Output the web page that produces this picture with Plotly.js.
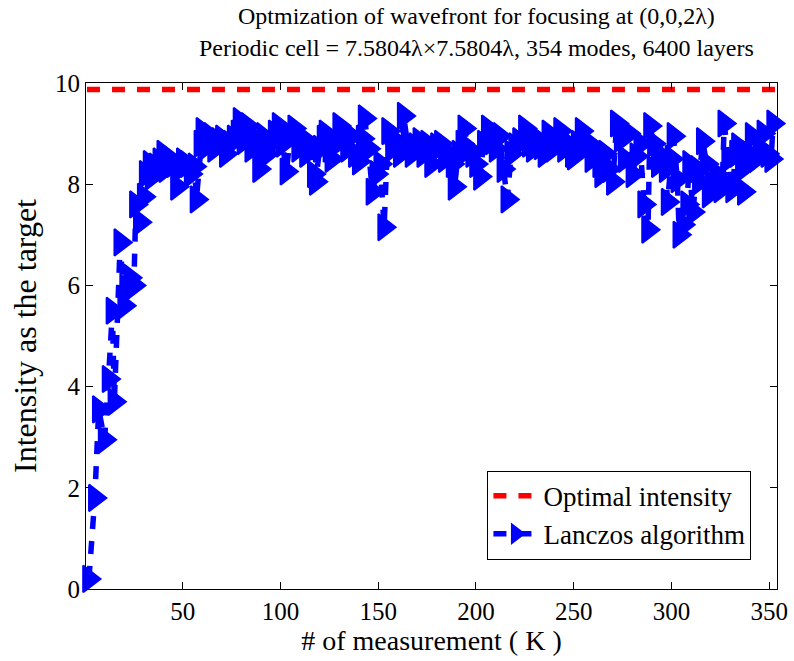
<!DOCTYPE html>
<html>
<head>
<meta charset="utf-8">
<script src="https://cdn.plot.ly/plotly-3.0.1.min.js"></script>
<style>html,body{margin:0;padding:0;background:#fff;}#chart{width:794px;height:661px;}</style>
</head>
<body>
<div id="chart"></div>
<script>
// Measurement counts K (x) and Lanczos intensity at the target (y)
const measurementK = [2,5,7,10,12,14,15,18,20,21,23,25,26,28,30,31,33,34,36,38,40,41,43,45,47,48,50,52,54,56,57,59,60,62,64,66,68,70,72,74,76,78,79,81,83,85,87,89,91,93,95,97,99,101,103,105,107,109,111,113,115,117,118,120,122,123,125,126,128,130,132,134,136,138,140,142,143,145,147,149,151,153,155,157,159,161,163,165,167,169,171,173,175,177,178,180,182,184,186,188,189,191,193,194,196,198,200,202,204,206,208,210,212,214,216,218,220,222,225,227,229,231,233,235,237,239,241,243,245,247,249,250,252,254,256,258,259,261,263,264,266,268,270,272,274,276,278,280,282,284,286,288,289,291,293,295,297,298,300,301,303,304,306,308,309,311,313,314,316,318,319,321,323,325,326,327,329,331,333,334,336,337,339,341,343,345,347,349,351,352];
const lanczosIntensity = [0.2,1.8,3.55,2.95,4.15,5.5,3.7,6.85,5.6,5.95,6.15,6.0,7.6,7.25,7.75,8.2,8.4,8.15,8.35,8.45,8.6,8.3,8.5,8.4,7.95,8.3,8.45,8.4,8.2,8.35,7.7,8.8,9.05,8.75,8.95,8.7,8.85,8.9,8.6,8.8,8.9,9.0,9.25,8.85,9.15,8.7,8.9,8.3,8.95,8.6,8.8,9.0,9.15,8.8,8.25,8.95,9.1,8.7,8.9,8.6,8.8,8.2,8.05,8.7,8.9,9.0,8.7,8.5,8.8,9.15,8.9,8.7,8.95,8.6,8.45,8.9,9.3,8.7,7.85,8.2,8.4,7.15,9.05,8.7,8.85,8.6,9.35,8.8,8.6,8.75,8.85,8.6,8.8,8.4,8.65,8.75,8.8,8.5,8.6,8.4,7.95,8.6,8.8,9.1,8.7,8.6,8.4,8.15,8.8,9.1,8.85,8.7,8.95,8.3,7.7,8.6,8.75,8.85,9.1,8.8,8.7,8.9,8.75,8.6,9.0,8.7,8.8,9.05,8.7,8.8,8.6,8.55,8.8,9.05,8.75,8.8,8.5,8.6,8.4,8.2,8.6,8.3,8.05,9.2,8.9,8.5,9.0,8.2,8.55,8.8,7.6,7.1,9.15,8.8,8.4,8.55,8.3,7.65,8.5,8.95,8.1,7.0,7.2,7.6,8.4,7.45,8.3,8.05,8.85,8.4,7.8,7.9,8.2,7.9,8.0,9.2,8.5,7.9,8.6,8.75,8.3,7.85,8.6,8.95,8.5,8.7,9.0,8.6,8.5,9.2];
const optimalK = [1, 354];
const optimalIntensity = [9.87, 9.87];
const seriesNames = ['Optimal intensity', 'Lanczos algorithm'];
const xTicks = [50,100,150,200,250,300,350];
const yTicks = [0,2,4,6,8,10];

const serif = 'Liberation Serif, Times New Roman, serif';
const traces = [
  {x: optimalK, y: optimalIntensity, name: seriesNames[0], mode: 'lines',
   line: {color: '#ff0000', width: 5.5, dash: '13px,12px'}},
  {x: measurementK, y: lanczosIntensity, name: seriesNames[1], mode: 'lines+markers',
   line: {color: '#0000ff', width: 5.5, dash: '13px,12px'},
   marker: {symbol: 'triangle-right', size: 23, color: '#0000ff', line: {color: '#0000ff', width: 2}},
   cliponaxis: false}
];
const axisCommon = {showline: true, linecolor: '#000', linewidth: 1, mirror: 'ticks', ticks: 'inside',
  ticklen: 7, tickcolor: '#000', tickwidth: 1, showgrid: false, zeroline: false,
  tickfont: {family: serif, size: 25, color: '#000'}};
const layout = {
  width: 794, height: 661,
  margin: {l: 86, r: 17, t: 83, b: 72},
  paper_bgcolor: '#fff', plot_bgcolor: '#fff',
  font: {family: serif, color: '#000'},
  title: {text: 'Optmization of wavefront for focusing at (0,0,2λ)<br>Periodic cell = 7.5804λ×7.5804λ, 354 modes, 6400 layers',
    font: {family: serif, size: 24, color: '#000'}, x: 0.6, xanchor: 'center', y: 0.963, yanchor: 'middle', yref: 'container'},
  xaxis: Object.assign({}, axisCommon, {range: [0.5, 354], tickvals: xTicks,
    title: {text: '# of measurement ( K )', font: {family: serif, size: 28, color: '#000'}, standoff: 2}}),
  yaxis: Object.assign({}, axisCommon, {range: [0, 10], tickvals: yTicks,
    title: {text: 'Intensity as the target', font: {family: serif, size: 32, color: '#000'}, standoff: 8}}),
  legend: {x: 0.963, y: 0.058, xanchor: 'right', yanchor: 'bottom', bgcolor: '#fff', itemwidth: 45,
    bordercolor: '#000', borderwidth: 1, font: {family: serif, size: 27, color: '#000'}},
  showlegend: true
};
Plotly.newPlot('chart', traces, layout, {displayModeBar: false, staticPlot: true});
</script>
</body>
</html>
